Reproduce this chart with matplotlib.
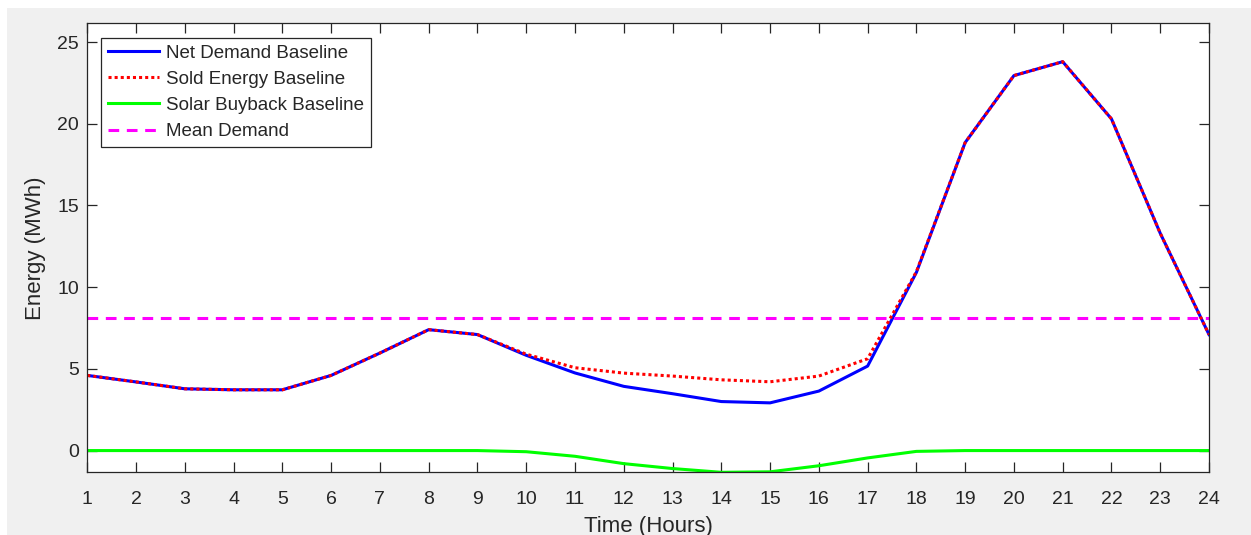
import matplotlib
matplotlib.use("Agg")
import matplotlib.pyplot as plt
from matplotlib.patches import Rectangle

# Valores -------------------------------------------------------------------
horas = list(range(1, 25))
demanda_liquida = [4.6, 4.2, 3.78, 3.72, 3.72, 4.6, 5.97, 7.4, 7.1, 5.83, 4.75, 3.93,
                   3.48, 3.0, 2.92, 3.64, 5.17, 10.9, 18.85, 22.95, 23.8, 20.3, 13.3, 7.1]
energia_vendida = [4.6, 4.2, 3.78, 3.72, 3.72, 4.6, 5.97, 7.4, 7.1, 5.9, 5.07, 4.74,
                   4.56, 4.33, 4.21, 4.56, 5.62, 10.95, 18.85, 22.95, 23.8, 20.3, 13.3, 7.1]
recompra_solar = [0, 0, 0, 0, 0, 0, 0, 0, 0, -0.07, -0.35, -0.8,
                  -1.1, -1.33, -1.3, -0.93, -0.45, -0.05, 0, 0, 0, 0, 0, 0]
demanda_media = 8.1

cinza_txt = "#262626"
plt.rcParams["font.family"] = ["Liberation Sans", "DejaVu Sans"]

fig = plt.figure(figsize=(12.51, 5.35), dpi=100, facecolor="white")
fig.add_artist(Rectangle((7 / 1251, 0), 1, (535 - 8) / 535, transform=fig.transFigure,
                         facecolor="#f0f0f0", edgecolor="none", zorder=-10))
ax = fig.add_axes([87.3 / 1251, (535 - 472.3) / 535, (1209 - 87.3) / 1251, (472.3 - 23.3) / 535])

ax.plot(horas, demanda_liquida, color=(0, 0, 1), lw=2.2, label="Net Demand Baseline")
ax.plot(horas, energia_vendida, color=(1, 0, 0), lw=2.2, ls=(0, (1, 1)), label="Sold Energy Baseline")
ax.plot(horas, recompra_solar, color=(0, 1, 0), lw=2.2, label="Solar Buyback Baseline")
ax.axhline(demanda_media, color=(1, 0, 1), lw=2.2, ls=(0, (3.5, 2.5)), label="Mean Demand")

ax.set_xlim(1, 24)
ax.set_ylim(-1.33, 26.15)
ax.set_xticks(horas)
ax.set_yticks([0, 5, 10, 15, 20, 25])
ax.tick_params(direction="in", length=7, width=0.9, top=True, right=True,
               labelsize=14, colors=cinza_txt)
ax.tick_params(axis="x", pad=13.5)
ax.tick_params(axis="y", pad=6)
for s in ax.spines.values():
    s.set_color(cinza_txt)
    s.set_linewidth(0.9)
ax.set_xlabel("Time (Hours)", fontsize=16, color=cinza_txt, labelpad=6)
ax.set_ylabel("Energy (MWh)", fontsize=16, color=cinza_txt, labelpad=8)

leg = ax.legend(loc="upper left", bbox_to_anchor=(0.0125, 0.967), fontsize=13.5,
                handlelength=2.7, handletextpad=0.4, labelspacing=0.48, borderpad=0.35,
                borderaxespad=0, fancybox=False, framealpha=1)
leg.get_frame().set_edgecolor(cinza_txt)
leg.get_frame().set_linewidth(0.9)
for t in leg.get_texts():
    t.set_color(cinza_txt)

fig.savefig("out.png", dpi=100)
